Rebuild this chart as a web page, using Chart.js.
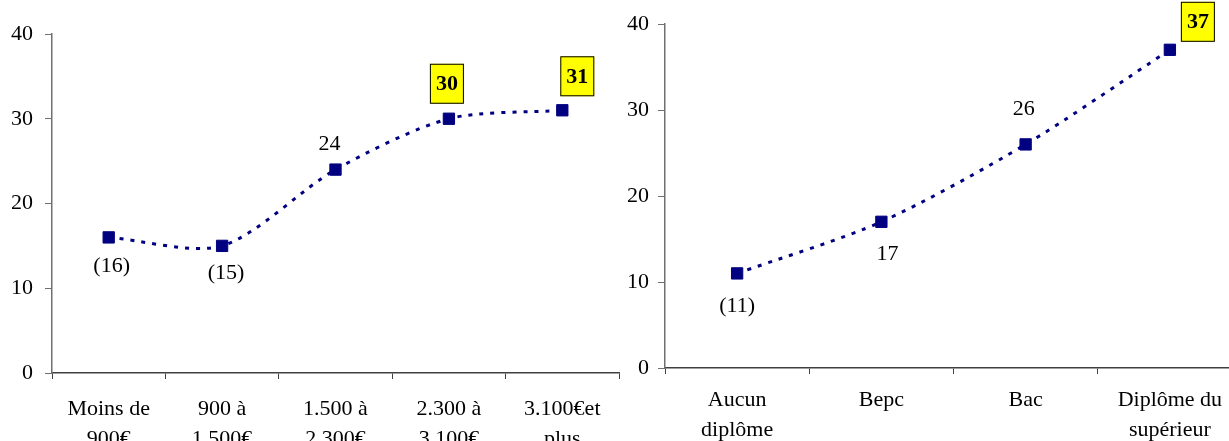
<!DOCTYPE html>
<html>
<head>
<meta charset="utf-8">
<script src="https://cdn.jsdelivr.net/npm/chart.js@4"></script>
<style>
  html, body { margin: 0; padding: 0; background: #fff; overflow: hidden; width: 1229px; height: 441px; }
  .wrap { position: absolute; top: 0; overflow: hidden; height: 441px; }
  #w1 { left: 0; width: 620px; }
  #w2 { left: 620px; width: 609px; }
  canvas { display: block; }
</style>
</head>
<body>
<div class="wrap" id="w1"><canvas id="incomeChart" width="628" height="460"></canvas></div>
<div class="wrap" id="w2"><canvas id="diplomaChart" width="631" height="460"></canvas></div>
<script>
(function () {
  'use strict';

  // ── Data ──
  const incomeCategories = [['Moins de', '900€'], ['900 à', '1.500€'], ['1.500 à', '2.300€'], ['2.300 à', '3.100€'], ['3.100€et', 'plus']];
  const incomeValues = [16, 15, 24, 30, 31];
  const incomeLabels = ['(16)', '(15)', '24', '30', '31'];
  const incomeHighlight = [false, false, false, true, true];

  const diplomaCategories = [['Aucun', 'diplôme'], 'Bepc', 'Bac', ['Diplôme du', 'supérieur']];
  const diplomaValues = [11, 17, 26, 37];
  const diplomaLabels = ['(11)', '17', '26', '37'];
  const diplomaHighlight = [false, false, false, true];

  const yTicks = [0, 10, 20, 30, 40];

  // ── Styles ──
  const NAVY = '#000080';
  const FONT = "'Liberation Serif', 'Times New Roman', serif";
  Chart.defaults.font.family = FONT;
  Chart.defaults.color = '#000';

  // value labels, optionally in a yellow box
  const valueLabels = {
    id: 'valueLabels',
    afterDatasetsDraw(chart, args, opts) {
      const ctx = chart.ctx;
      const meta = chart.getDatasetMeta(0);
      ctx.save();
      ctx.textAlign = 'center';
      ctx.textBaseline = 'middle';
      meta.data.forEach((pt, i) => {
        const off = opts.offsets[i];
        const x = pt.x + off[0];
        const y = pt.y + off[1];
        if (opts.highlight[i]) {
          ctx.fillStyle = '#ffff00';
          ctx.fillRect(x - 17, y - 20, 34, 40);
          ctx.strokeStyle = '#000';
          ctx.lineWidth = 1;
          ctx.strokeRect(x - 17 + 0.5, y - 20 + 0.5, 33, 39);
          ctx.font = 'bold 22px ' + FONT;
        } else {
          ctx.font = '22px ' + FONT;
        }
        ctx.fillStyle = '#000';
        ctx.fillText(opts.labels[i], x, y + 1);
      });
      ctx.restore();
    }
  };

  function makeChart(id, cats, values, labels, highlight, cfg) {
    return new Chart(document.getElementById(id), {
      type: 'line',
      data: {
        labels: cats,
        datasets: [{
          data: values,
          borderColor: NAVY,
          borderWidth: 3,
          borderDash: [4, 7],
          tension: 0.28,
          fill: false,
          pointStyle: 'rect',
          pointRadius: 8,
          pointBackgroundColor: NAVY,
          pointBorderColor: NAVY,
          pointBorderWidth: 1
        }]
      },
      options: {
        responsive: false,
        animation: false,
        devicePixelRatio: 1,
        layout: { padding: { top: cfg.top, left: 0, right: 0, bottom: 0 } },
        plugins: {
          legend: { display: false },
          tooltip: { enabled: false },
          valueLabels: { labels, highlight, offsets: cfg.offsets }
        },
        scales: {
          x: {
            offset: true,
            grid: { offset: true, drawOnChartArea: false, drawTicks: true, tickLength: 6, color: '#404040' },
            border: { color: '#404040', width: 1.5 },
            ticks: { padding: cfg.xPad, maxRotation: 0, autoSkip: false, font: { size: 22, lineHeight: 1.36 }, color: '#000' },
            afterFit: s => { s.height = cfg.xHeight; }
          },
          y: {
            min: 0,
            max: 40,
            afterBuildTicks: s => { s.ticks = yTicks.map(v => ({ value: v })); },
            grid: { drawOnChartArea: false, drawTicks: true, tickLength: 7, color: '#707070' },
            border: { color: '#707070', width: 1.5 },
            ticks: { padding: cfg.yPad, font: { size: 22 }, color: '#000' },
            afterFit: s => { s.width = cfg.yWidth; }
          }
        }
      },
      plugins: [valueLabels]
    });
  }

  // ── Init ──
  makeChart('incomeChart', incomeCategories, incomeValues, incomeLabels, incomeHighlight, {
    top: 34, xHeight: 87, yWidth: 52, xPad: 15, yPad: 12,
    offsets: [[3, 28], [4, 26], [-6, -26], [-2, -35], [15, -34]]
  });
  makeChart('diplomaChart', diplomaCategories, diplomaValues, diplomaLabels, diplomaHighlight, {
    top: 24, xHeight: 92, yWidth: 45, xPad: 11, yPad: 9,
    offsets: [[0, 32], [6, 31], [-2, -36], [28, -28]]
  });
})();
</script>
</body>
</html>
